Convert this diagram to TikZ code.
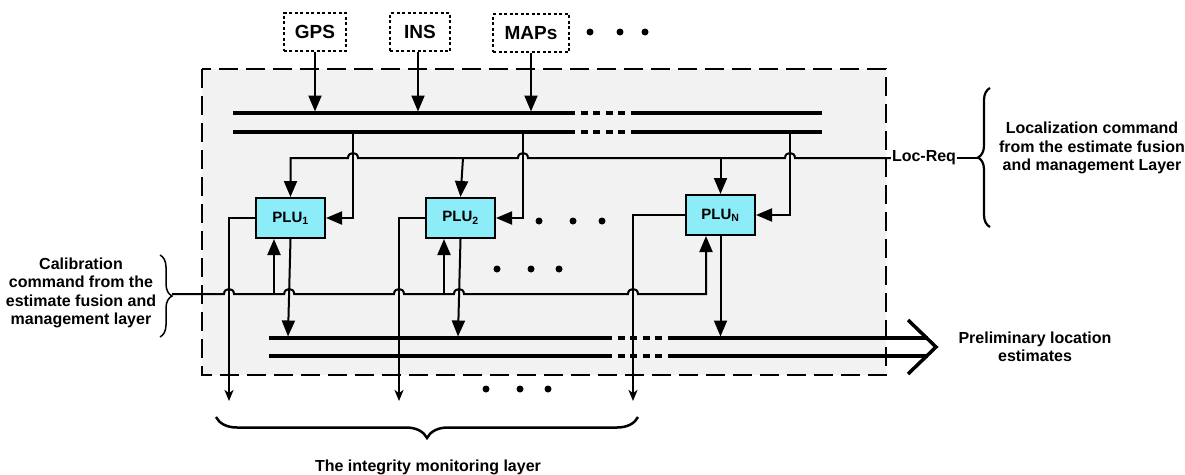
\documentclass[tikz,border=0pt]{standalone}
\usepackage{fontspec}
\setmainfont{Liberation Sans}
\usetikzlibrary{arrows.meta,decorations.pathreplacing}
\definecolor{boxgray}{HTML}{F2F2F2}
\definecolor{pluc}{HTML}{8CECF8}
\begin{document}
\begin{tikzpicture}[x=1pt,y=-1pt,
  conn/.style={line width=2pt},
  arr/.style={conn,-{Triangle[width=13pt,length=16pt]}},
  outarr/.style={conn,-{Stealth[width=9pt,length=11pt,inset=3pt]}},
  bus/.style={line width=3.5pt},
  busdash/.style={line width=3.5pt,dash pattern=on 7pt off 5.5pt},
  plubox/.style={draw,line width=2pt,fill=pluc,minimum width=69pt,minimum height=40pt,inner sep=0pt,font=\fontsize{15}{17}\selectfont\bfseries},
  srcbox/.style={draw,line width=2pt,dash pattern=on 3pt off 2.5pt,minimum width=60pt,minimum height=38pt,inner xsep=11pt,font=\fontsize{19}{21}\selectfont\bfseries},
  lbl/.style={align=center,inner sep=1pt,font=\fontsize{16}{18.5}\selectfont\bfseries},
  dotc/.style={fill=black},
  brc/.style={decorate,line width=2.2pt}
]
\useasboundingbox (0,0) rectangle (1185,474);
% gray dashed container
\draw[fill=boxgray,line width=2pt,dash pattern=on 19pt off 8pt] (202,69) rectangle (886,375);

% sources
\node[srcbox] (gps) at (315,32) {GPS};
\node[srcbox] (ins) at (420,32) {INS};
\node[srcbox,minimum width=76pt] (maps) at (531,33) {MAPs};
\foreach \x in {590,620,645} \fill[dotc] (\x,32) circle (3.5pt);

% top bus
\coordinate (b1) at (0,111.5);
\draw[bus] (233,113) -- (568,113);
\draw[busdash] (568,113) -- (633,113);
\draw[bus] (633,113) -- (822,113);
\draw[bus] (233,132) -- (568,132);
\draw[busdash] (568,132) -- (633,132);
\draw[bus] (633,132) -- (822,132);

\draw[arr] (gps.south) -- (gps.south |- b1);
\draw[arr] (ins.south -| 418,0) -- (418,111.5);
\draw[arr] (maps.south) -- (maps.south |- b1);

% PLUs
\node[plubox] (p1) at (290.5,218) {PLU\textsubscript{1}};
\node[plubox] (p2) at (460.5,218) {PLU\textsubscript{2}};
\node[plubox] (pN) at (720.5,215) {PLU\textsubscript{N}};

% dots
\foreach \x in {539,573,602} \fill[dotc] (\x,221) circle (3.5pt);
\foreach \x in {497,531,559} \fill[dotc] (\x,269) circle (3.5pt);
\foreach \x in {486,520,548} \fill[dotc] (\x,389) circle (3.5pt);

% taps from bus to PLU right side
\coordinate (t1) at (353,132);
\coordinate (t2) at (523,132);
\coordinate (tN) at (790,132);
\draw[arr] (t1) |- (p1.east);
\draw[arr] (t2) |- (p2.east);
\draw[arr] (tN) |- (pN.east);

% Loc-Req line
\node[lbl] (lr) at (924,158) {Loc-Req};
\coordinate (lry) at (0,158);
\draw[arr] (lr.west) -- (795,158) .. controls (795,151.3) and (785,151.3) .. (785,158)
  -- (528,158) .. controls (528,151.3) and (518,151.3) .. (518,158)
  -- (358,158) .. controls (358,151.3) and (348,151.3) .. (348,158)
  -- (p1.north |- lry) -- (p1.north);
\draw[arr] (463,158) -- (p2.north);
\draw[arr] (pN.north |- lry) -- (pN.north);

% Localization brace and text
\coordinate (lbt) at (978,158);
\draw[conn] (lr.east) -- (lbt);
\draw[brc,decoration={brace,amplitude=12pt}] (990,227) -- (990,88);
\node[lbl] (lt) at (1092,148) {Localization command\\from the estimate fusion\\and management Layer};

% bottom bus
\draw[bus] (269,338) -- (605,338);
\draw[busdash] (605,338) -- (670,338);
\draw[bus] (670,338) -- (928,338);
\draw[bus] (269,356) -- (605,356);
\draw[busdash] (605,356) -- (670,356);
\draw[bus] (670,356) -- (928,356);
\draw[line width=3.5pt,miter limit=10] (908,320) -- (936,347) -- (908,374);
\coordinate (bb) at (0,336.5);

% PLU outputs to bottom bus
\draw[arr] (p1.south) -- (288,336.5);
\draw[arr] (p2.south) -- (458,336.5);
\draw[arr] (pN.south) -- (pN.south |- bb);

% PLU left outputs to integrity layer
\coordinate (o1) at (229,401);
\coordinate (o2) at (399,401);
\coordinate (oN) at (633,401);
\draw[outarr] (p1.west) -| (o1);
\draw[outarr] (p2.west) -| (o2);
\draw[outarr] (pN.west) -| (oN);

% calibration line
\coordinate (cb) at (172,294);
\coordinate (c1) at (274,294);
\coordinate (c2) at (444,294);
\coordinate (cN) at (706,294);
\draw[arr] (cb) -- (224,294) .. controls (224,287.3) and (234,287.3) .. (234,294)
  -- (284.2,294) .. controls (284.2,287.3) and (294.2,287.3) .. (294.2,294)
  -- (394,294) .. controls (394,287.3) and (404,287.3) .. (404,294)
  -- (454,294) .. controls (454,287.3) and (464,287.3) .. (464,294)
  -- (628,294) .. controls (628,287.3) and (638,287.3) .. (638,294)
  -- (cN) -- (cN |- pN.south);
\draw[arr] (c1) -- (c1 |- p1.south);
\draw[arr] (c2) -- (c2 |- p2.south);

% calibration brace and text
\draw[decorate,line width=1.5pt,decoration={brace,amplitude=12pt}] (160,255) -- (160,337);
\node[lbl] (ct) at (81,293) {Calibration\\command from the\\estimate fusion and\\management layer};

% preliminary estimates
\node[lbl] (pt) at (1035,347) {Preliminary location\\estimates};

% integrity monitoring brace and text
\draw[brc,line width=2.5pt,decoration={brace,amplitude=21pt}] (638,417) -- (216,417);
\node[lbl,anchor=base] (it) at (428,471) {The integrity monitoring layer};
\end{tikzpicture}
\end{document}
